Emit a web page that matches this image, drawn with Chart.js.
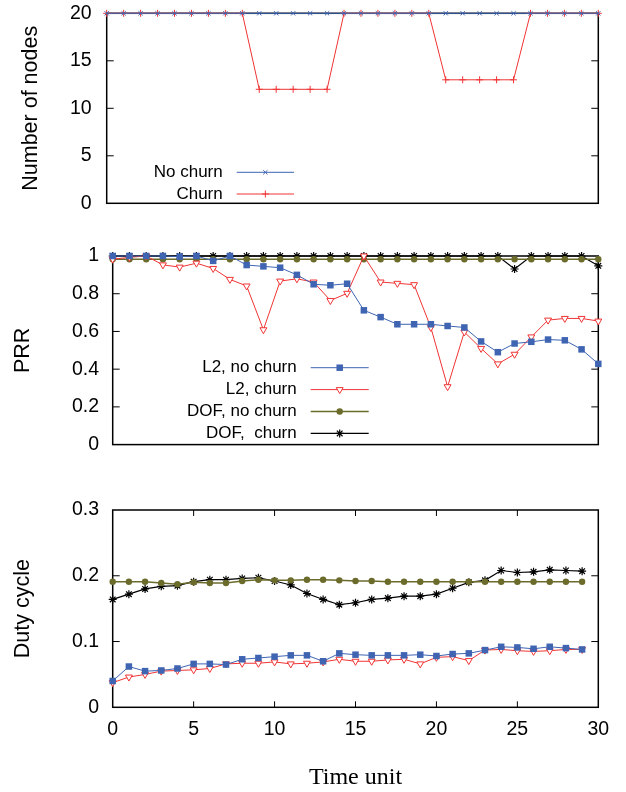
<!DOCTYPE html>
<html>
<head>
<meta charset="utf-8">
<title>Nodes, PRR and duty cycle over time</title>
<script src="https://cdn.jsdelivr.net/npm/chart.js@4.4.1/dist/chart.umd.min.js"></script>
<style>
  html, body { margin: 0; padding: 0; background: #fff; }
  body { width: 626px; height: 792px; position: relative; overflow: hidden; }
  .panel { position: absolute; left: 0; width: 626px; }
</style>
</head>
<body>
<div class="panel" style="top:-14px;height:244px"><canvas id="nodesChart"></canvas></div>
<div class="panel" style="top:230px;height:240px"><canvas id="prrChart"></canvas></div>
<div class="panel" style="top:470px;height:322px"><canvas id="dutyChart"></canvas></div>
<script>
// time steps shared by all three panels
const timeSteps = [0,1,2,3,4,5,6,7,8,9,10,11,12,13,14,15,16,17,18,19,20,21,22,23,24,25,26,27,28,29];

// Number of nodes
const nodesNoChurn = [20,20,20,20,20,20,20,20,20,20,20,20,20,20,20,20,20,20,20,20,20,20,20,20,20,20,20,20,20,20];
const nodesChurn   = [20,20,20,20,20,20,20,20,20,12,12,12,12,12,20,20,20,20,20,20,13,13,13,13,13,20,20,20,20,20];

// PRR
const prrL2NoChurn  = [1.0,1.0,1.0,1.0,0.997,1.0,0.974,1.0,0.952,0.945,0.938,0.90,0.85,0.845,0.853,0.712,0.676,0.638,0.638,0.638,0.629,0.621,0.547,0.49,0.536,0.545,0.557,0.553,0.505,0.428];
const prrL2Churn    = [0.983,0.993,1.0,0.953,0.941,0.962,0.934,0.876,0.841,0.609,0.867,0.879,0.862,0.764,0.802,1.0,0.862,0.855,0.848,0.621,0.307,0.597,0.510,0.428,0.479,0.571,0.660,0.669,0.669,0.655];
const prrDofNoChurn = [0.983,0.983,0.983,0.983,0.983,0.983,0.983,0.983,0.983,0.983,0.983,0.983,0.983,0.983,0.983,0.983,0.983,0.983,0.983,0.983,0.983,0.983,0.983,0.983,0.983,0.983,0.983,0.983,0.983,0.983];
const prrDofChurn   = [1,1,1,1,1,1,1,1,1,1,1,1,1,1,1,1,1,1,1,1,1,1,1,1,0.931,1,1,1,1,0.948];

// Duty cycle
const dutyL2NoChurn  = [0.040,0.062,0.055,0.056,0.059,0.066,0.066,0.065,0.073,0.075,0.077,0.079,0.079,0.070,0.082,0.080,0.079,0.079,0.079,0.080,0.078,0.081,0.082,0.087,0.092,0.091,0.089,0.092,0.090,0.088];
const dutyL2Churn    = [0.0375,0.046,0.050,0.055,0.056,0.057,0.059,0.066,0.067,0.067,0.069,0.066,0.067,0.069,0.073,0.070,0.070,0.072,0.073,0.066,0.076,0.077,0.071,0.087,0.088,0.086,0.085,0.086,0.088,0.088];
const dutyDofNoChurn = [0.191,0.191,0.191,0.189,0.187,0.190,0.189,0.189,0.192,0.194,0.193,0.193,0.194,0.194,0.193,0.192,0.192,0.191,0.191,0.191,0.191,0.191,0.191,0.191,0.191,0.191,0.191,0.191,0.191,0.191];
const dutyDofChurn   = [0.164,0.172,0.180,0.184,0.185,0.191,0.194,0.194,0.196,0.197,0.192,0.186,0.173,0.164,0.156,0.159,0.164,0.166,0.169,0.169,0.172,0.181,0.190,0.193,0.208,0.205,0.206,0.209,0.208,0.207];

// labels
const nodesLabels = ["No churn", "Churn"];
const seriesLabels = ["L2, no churn", "L2, churn", "DOF, no churn", "DOF,  churn"];

const BLUE = "#3e64b2", RED = "#f03434", OLIVE = "#6b6b2b", BLACK = "#000000";
const SANS = '"Liberation Sans", Arial, sans-serif';

Chart.defaults.color = "#000";
Chart.defaults.font.family = SANS;

function pts(values){ return timeSteps.map((t, i) => ({ x: t, y: values[i] })); }

// styles per series (higher order ends up on top)
const styles = {
  nodesNo:  { borderColor: BLUE, borderWidth: 1, pointStyle: "crossRot", pointRadius: 3, pointBorderWidth: 1, pointBorderColor: BLUE, pointBackgroundColor: BLUE, order: 0 },
  nodesCh:  { borderColor: RED, borderWidth: 1, pointStyle: "cross", pointRadius: 3.5, pointBorderWidth: 1, pointBorderColor: RED, pointBackgroundColor: RED, order: 1 },
  l2No:     { borderColor: BLUE, borderWidth: 1, pointStyle: "rect", pointRadius: 4.6, pointBorderWidth: 0, pointBorderColor: BLUE, pointBackgroundColor: BLUE, order: 0 },
  l2Ch:     { borderColor: RED, borderWidth: 1, pointStyle: "triangle", pointRotation: 180, pointRadius: 4, pointBorderWidth: 1, pointBorderColor: RED, pointBackgroundColor: "#fff", order: 1 },
  dofNo:    { borderColor: OLIVE, borderWidth: 1.5, pointStyle: "circle", pointRadius: 3.2, pointBorderWidth: 0, pointBorderColor: OLIVE, pointBackgroundColor: OLIVE, order: 2 },
  dofCh:    { borderColor: BLACK, borderWidth: 1.2, pointStyle: "star", pointRadius: 4, pointBorderWidth: 1.2, pointBorderColor: BLACK, pointBackgroundColor: BLACK, order: 3 }
};

function series(label, values, style){
  return Object.assign({ label: label, data: pts(values), tension: 0, clip: false, pointHoverRadius: 0 }, style);
}

// frame box with inward ticks (gnuplot look)
const frameTicks = {
  id: "frameTicks",
  beforeDatasetsDraw(chart, args, opts){
    const { ctx, chartArea: a, scales } = chart;
    ctx.save();
    ctx.strokeStyle = "#000";
    const line = (x0, y0, x1, y1) => { ctx.beginPath(); ctx.moveTo(x0, y0); ctx.lineTo(x1, y1); ctx.stroke(); };
    ctx.lineWidth = 1;
    scales.y.ticks.forEach(t => {
      const py = scales.y.getPixelForValue(t.value);
      if (py <= a.top + 1 || py >= a.bottom - 1) return;
      line(a.left, py, a.left + 7, py);
      line(a.right, py, a.right - 7, py);
    });
    if (opts.xTicks) {
      scales.x.ticks.forEach(t => {
        const px = scales.x.getPixelForValue(t.value);
        if (px <= a.left + 1 || px >= a.right - 1) return;
        line(px, a.bottom, px, a.bottom - 6);
        line(px, a.top, px, a.top + 6);
      });
    }
    ctx.lineWidth = 1.5;
    ctx.strokeRect(a.left, a.top, a.width, a.height);
    ctx.restore();
  }
};

// legend drawn inside the plot: text right-aligned, then line sample with marker
const insideLegend = {
  id: "insideLegend",
  afterDatasetsDraw(chart, args, opts){
    if (!opts.display) return;
    const { ctx, chartArea: a } = chart;
    ctx.save();
    ctx.font = "17px " + SANS;
    ctx.textAlign = "right";
    ctx.textBaseline = "middle";
    chart.data.datasets.forEach((ds, i) => {
      const y = a.top + opts.top + i * opts.rowHeight;
      ctx.fillStyle = "#000";
      ctx.fillText(ds.label, a.left + opts.textRight, y);
      const x0 = a.left + opts.lineFrom, x1 = a.left + opts.lineTo;
      ctx.strokeStyle = ds.borderColor;
      ctx.lineWidth = ds.borderWidth;
      ctx.beginPath(); ctx.moveTo(x0, y); ctx.lineTo(x1, y); ctx.stroke();
      ctx.fillStyle = ds.pointBackgroundColor;
      ctx.strokeStyle = ds.pointBorderColor;
      ctx.lineWidth = ds.pointBorderWidth;
      Chart.helpers.drawPoint(ctx, {
        pointStyle: ds.pointStyle, radius: ds.pointRadius,
        rotation: ds.pointRotation || 0, borderWidth: ds.pointBorderWidth
      }, (x0 + x1) / 2, y);
    });
    ctx.restore();
  }
};

const trimNum = v => String(+Number(v).toFixed(2));

function makeChart(id, cfg){
  return new Chart(document.getElementById(id), {
    type: "line",
    data: { datasets: cfg.datasets },
    options: {
      responsive: true,
      maintainAspectRatio: false,
      animation: false,
      events: [],
      layout: { padding: cfg.padding },
      scales: {
        x: {
          type: "linear", min: 0, max: cfg.xMax,
          display: cfg.showX,
          afterFit: s => { s.height = cfg.xHeight || 0; },
          grid: { display: false, drawTicks: false }, border: { display: false },
          ticks: { stepSize: 5, padding: 11, font: { size: 19.5 }, maxRotation: 0 },
          title: { display: cfg.showX, text: "Time unit", padding: { top: 0, bottom: 0 },
                   font: { family: '"Liberation Serif", "Times New Roman", serif', size: 24 } }
        },
        y: {
          min: cfg.yMin, max: cfg.yMax,
          afterFit: s => { s.width = cfg.yWidth; },
          grid: { display: false, drawTicks: false }, border: { display: false },
          ticks: { stepSize: cfg.yStep, padding: cfg.tickPad, font: { size: 19.5 }, callback: trimNum },
          title: { display: true, text: cfg.yTitle, padding: { top: cfg.titlePad, bottom: 0 }, font: { size: 21.5 } }
        }
      },
      plugins: {
        legend: { display: false },
        tooltip: { enabled: false },
        frameTicks: { xTicks: cfg.showX },
        insideLegend: cfg.legend
      }
    },
    plugins: [frameTicks, insideLegend]
  });
}

makeChart("nodesChart", {
  datasets: [
    series(nodesLabels[0], nodesNoChurn, styles.nodesNo),
    series(nodesLabels[1], nodesChurn, styles.nodesCh)
  ],
  padding: { top: 27.3, right: 27.7, bottom: 20.7, left: 0 },
  xMax: 29, showX: false,
  yMin: 0, yMax: 20, yStep: 5, yWidth: 106.7, tickPad: 15, titlePad: 17.9,
  yTitle: "Number of nodes",
  legend: { display: true, top: 159, rowHeight: 21.7, textRight: 116, lineFrom: 130, lineTo: 187.3 }
});

makeChart("prrChart", {
  datasets: [
    series(seriesLabels[0], prrL2NoChurn, styles.l2No),
    series(seriesLabels[1], prrL2Churn, styles.l2Ch),
    series(seriesLabels[2], prrDofNoChurn, styles.dofNo),
    series(seriesLabels[3], prrDofChurn, styles.dofCh)
  ],
  padding: { top: 26, right: 27.7, bottom: 20.7, left: 0 },
  xMax: 29, showX: false,
  yMin: 0, yMax: 1, yStep: 0.2, yWidth: 112.7, tickPad: 13.7, titlePad: 10.5,
  yTitle: "PRR",
  legend: { display: true, top: 111.7, rowHeight: 21.9, textRight: 184, lineFrom: 198, lineTo: 256 }
});

makeChart("dutyChart", {
  datasets: [
    series(seriesLabels[0], dutyL2NoChurn, styles.l2No),
    series(seriesLabels[1], dutyL2Churn, styles.l2Ch),
    series(seriesLabels[2], dutyDofNoChurn, styles.dofNo),
    series(seriesLabels[3], dutyDofChurn, styles.dofCh)
  ],
  padding: { top: 40, right: 27.7, bottom: 0, left: 0 },
  xMax: 30, showX: true, xHeight: 84.7,
  yMin: 0, yMax: 0.3, yStep: 0.1, yWidth: 112.7, tickPad: 13.7, titlePad: 10.5,
  yTitle: "Duty cycle",
  legend: { display: false }
});
</script>
</body>
</html>
